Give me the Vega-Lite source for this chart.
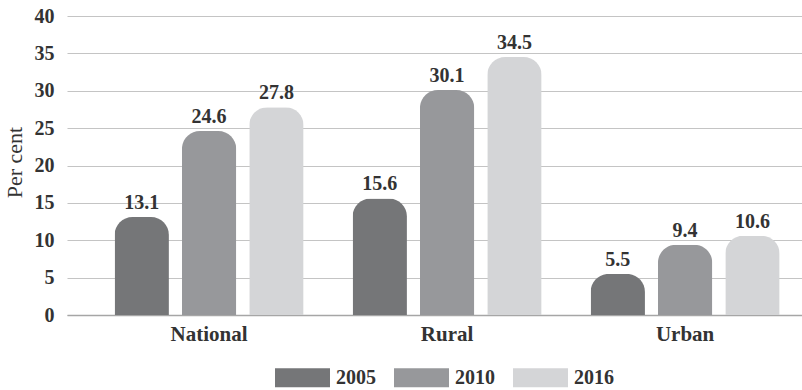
{
  "$schema": "https://vega.github.io/schema/vega-lite/v6.json",
  "width": 735,
  "height": 299,
  "autosize": {"type": "none"},
  "padding": {"left": 67, "top": 16, "right": 0, "bottom": 75},
  "background": "white",
  "config": {
    "view": {"stroke": null},
    "font": "Liberation Serif",
    "text": {"font": "Liberation Serif"}
  },
  "data": {
    "values": [
      {"area": "National", "year": "2005", "value": 13.1},
      {"area": "National", "year": "2010", "value": 24.6},
      {"area": "National", "year": "2016", "value": 27.8},
      {"area": "Rural", "year": "2005", "value": 15.6},
      {"area": "Rural", "year": "2010", "value": 30.1},
      {"area": "Rural", "year": "2016", "value": 34.5},
      {"area": "Urban", "year": "2005", "value": 5.5},
      {"area": "Urban", "year": "2010", "value": 9.4},
      {"area": "Urban", "year": "2016", "value": 10.6}
    ]
  },
  "encoding": {
    "x": {
      "field": "area",
      "type": "nominal",
      "sort": ["National", "Rural", "Urban"],
      "scale": {"paddingInner": 0.206, "paddingOuter": 0.147, "align": 0.68, "round": false},
      "axis": {
        "title": null,
        "labelAngle": 0,
        "ticks": false,
        "domain": true,
        "domainColor": "#a6a6a6",
        "domainWidth": 1.5,
        "labelFont": "Liberation Serif",
        "labelFontWeight": "bold",
        "labelFontSize": 21,
        "labelColor": "#333333",
        "labelPadding": 8
      }
    },
    "xOffset": {
      "field": "year",
      "type": "nominal",
      "scale": {"paddingInner": 0.193, "paddingOuter": 0, "round": false}
    },
    "y": {
      "field": "value",
      "type": "quantitative",
      "scale": {"domain": [0, 40], "nice": false},
      "axis": {
        "title": "Per cent",
        "titleFont": "Liberation Serif",
        "titleFontWeight": "normal",
        "titleFontSize": 22,
        "titleColor": "#333333",
        "titleX": -46,
        "titleY": 146,
        "titleAngle": -90,
        "titleAlign": "center",
        "titleBaseline": "alphabetic",
        "values": [0, 5, 10, 15, 20, 25, 30, 35, 40],
        "ticks": false,
        "domain": false,
        "grid": true,
        "gridColor": "#c4c4c4",
        "gridWidth": 1.2,
        "labelFont": "Liberation Serif",
        "labelFontWeight": "bold",
        "labelFontSize": 20,
        "labelColor": "#333333",
        "labelPadding": 13
      }
    }
  },
  "layer": [
    {
      "mark": {"type": "bar", "cornerRadiusTopLeft": 18, "cornerRadiusTopRight": 18},
      "encoding": {
        "color": {
          "field": "year",
          "type": "nominal",
          "scale": {"domain": ["2005", "2010", "2016"], "range": ["#757678", "#97989b", "#d4d5d7"]},
          "legend": {
            "title": null,
            "orient": "none",
            "direction": "horizontal",
            "legendX": 208,
            "legendY": 334,
            "symbolType": "M-1,-0.345H1V0.345H-1Z",
            "symbolSize": 3025,
            "symbolStrokeWidth": 0,
            "labelFont": "Liberation Serif",
            "labelFontWeight": "bold",
            "labelFontSize": 20,
            "labelColor": "#333333",
            "labelOffset": 6,
            "columnPadding": 18,
            "padding": 0
          }
        }
      }
    },
    {
      "mark": {"type": "text", "baseline": "alphabetic", "dy": -8, "font": "Liberation Serif", "fontWeight": "bold", "fontSize": 20, "color": "#333333"},
      "encoding": {
        "text": {"field": "value", "type": "quantitative", "format": ".1f"}
      }
    }
  ]
}
